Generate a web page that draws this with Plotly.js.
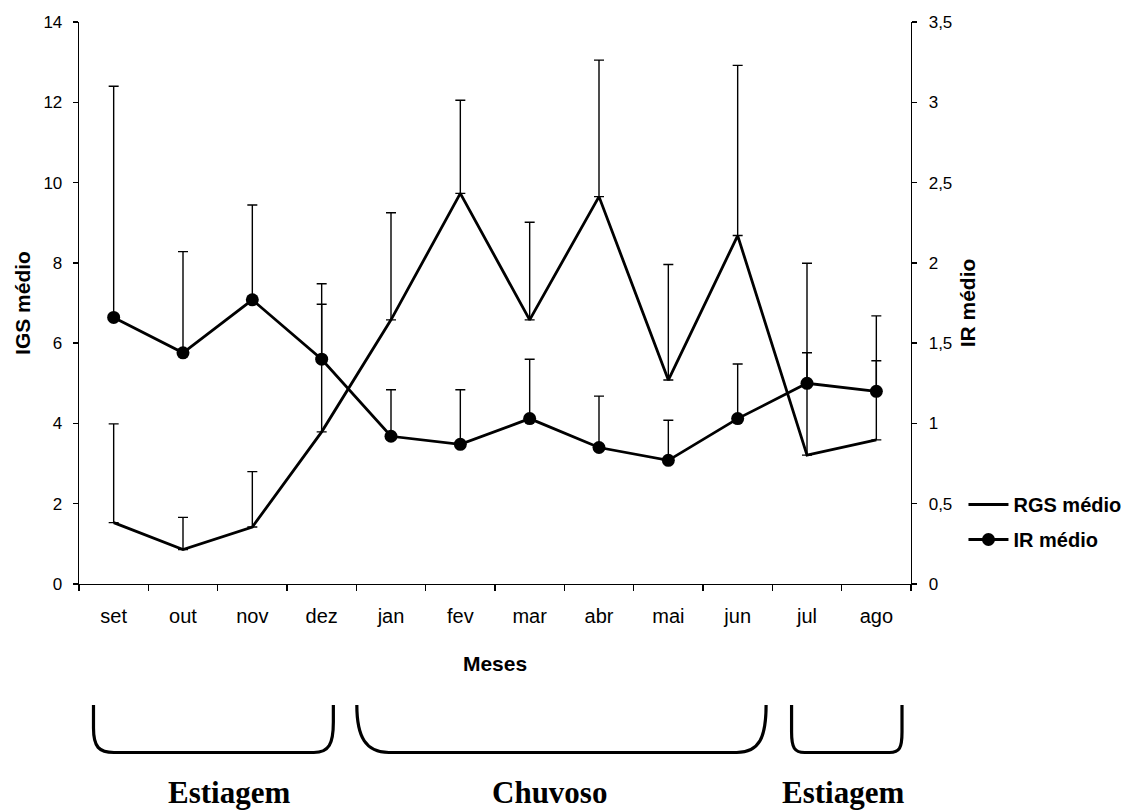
<!DOCTYPE html>
<html>
<head>
<meta charset="utf-8">
<script src="https://cdn.plot.ly/plotly-3.0.1.min.js"></script>
<style>html,body{margin:0;padding:0;background:#fff;}#chart{width:1130px;height:811px;}</style>
</head>
<body>
<div id="chart"></div>
<script>
// ---- data ----
const months = ['set','out','nov','dez','jan','fev','mar','abr','mai','jun','jul','ago'];
const rgsMedio = [1.53,0.86,1.42,3.79,6.58,9.73,6.58,9.65,5.08,8.68,3.21,3.59];
const rgsErrUp = [2.46,0.80,1.38,3.18,2.67,2.32,2.43,3.40,2.88,4.24,4.78,3.09];
const irMedio  = [1.66,1.44,1.77,1.40,0.92,0.87,1.03,0.85,0.77,1.03,1.25,1.20];
const irErrUp  = [1.44,0.63,0.59,0.47,0.29,0.34,0.37,0.32,0.25,0.34,0.19,0.19];
const leftTicks = [0,2,4,6,8,10,12,14];
const rightTicks = [0,0.5,1,1.5,2,2.5,3,3.5];
const seasons = ['Estiagem','Chuvoso','Estiagem'];

// ---- geometry (pixels) ----
const W = 1130, H = 811;
const L = 79, R = 911.5, T = 22, B = 584;
const pw = R - L, ph = B - T;
const fx = x => (x - L) / pw;
const fy = y => (B - y) / ph;
const P = (x, y) => fx(x).toFixed(5) + ',' + fy(y).toFixed(5);

const SANS = 'Liberation Sans, Arial, sans-serif';
const SERIF = 'Liberation Serif, Times New Roman, serif';

const zeros = months.map(() => 0);

const traces = [
  {
    type: 'scatter', mode: 'lines', name: 'RGS médio', legendgroup: 'a',
    x: months, y: rgsMedio, xaxis: 'x', yaxis: 'y',
    line: {color: '#000', width: 2.8},
    error_y: {type: 'data', symmetric: false, array: rgsErrUp, arrayminus: zeros,
              color: '#000', thickness: 1.4, width: 5}
  },
  {
    type: 'scatter', mode: 'lines+markers', name: 'IR médio', legendgroup: 'b',
    x: months, y: irMedio, xaxis: 'x', yaxis: 'y2',
    line: {color: '#000', width: 2.8},
    marker: {color: '#000', size: 13, symbol: 'circle'},
    error_y: {type: 'data', symmetric: false, array: irErrUp, arrayminus: zeros,
              color: '#000', thickness: 1.4, width: 5}
  }
];

const braces = [
  // Estiagem 1
  'M' + P(93.5,705) + 'L' + P(93.5,728) + 'C' + P(93.5,747) + ' ' + P(99,752.5) + ' ' + P(114,752.5) +
  'L' + P(314,752.5) + 'C' + P(329,752.5) + ' ' + P(333.5,744) + ' ' + P(333.5,722) + 'L' + P(333.5,705),
  // Chuvoso
  'M' + P(357,705) + 'C' + P(357,737) + ' ' + P(366,752.5) + ' ' + P(389,752.5) +
  'L' + P(737,752.5) + 'C' + P(760,752.5) + ' ' + P(766.5,737) + ' ' + P(766.5,705),
  // Estiagem 2
  'M' + P(792,705) + 'L' + P(792,732) + 'C' + P(792,748) + ' ' + P(795,752.5) + ' ' + P(805,752.5) +
  'L' + P(890,752.5) + 'C' + P(900,752.5) + ' ' + P(902.5,748) + ' ' + P(902.5,732) + 'L' + P(902.5,705)
];
const shapes = braces.map(p => ({
  type: 'path', xref: 'paper', yref: 'paper', path: p,
  line: {color: '#000', width: 3.2}, layer: 'above'
}));

const seasonX = [229, 550, 843];
const annotations = seasons.map((s, i) => ({
  text: '<b>' + s + '</b>', xref: 'paper', yref: 'paper',
  x: fx(seasonX[i]), y: fy(792), xanchor: 'center', yanchor: 'middle',
  showarrow: false, font: {family: SERIF, size: 31, color: '#000'}
}));

const axisCommon = {
  showgrid: false, zeroline: false, showline: true, linecolor: '#000', linewidth: 1.3,
  tickcolor: '#000', tickwidth: 1.3, fixedrange: true
};

const layout = {
  width: W, height: H,
  margin: {l: L, r: W - R, t: T, b: H - B, pad: 0, autoexpand: false},
  paper_bgcolor: '#fff', plot_bgcolor: '#fff',
  separators: ',.',
  font: {family: SANS, color: '#000', size: 17},
  showlegend: true,
  legend: {
    x: fx(964), y: fy(485), xanchor: 'left', yanchor: 'top',
    bgcolor: 'rgba(0,0,0,0)', borderwidth: 0,
    font: {family: SANS, size: 20, color: '#000', weight: 'bold'},
    traceorder: 'grouped', tracegroupgap: 6, itemwidth: 40
  },
  xaxis: Object.assign({}, axisCommon, {
    type: 'category', tickson: 'boundaries', ticks: 'outside', ticklen: 6,
    tickfont: {family: SANS, size: 20, color: '#000'},
    ticklabelstandoff: 14,
    title: {text: '<b>Meses</b>', font: {family: SANS, size: 21, color: '#000'}, standoff: 30},
    range: [-0.5, 11.5]
  }),
  xaxis2: Object.assign({}, axisCommon, {
    overlaying: 'x', anchor: 'y', side: 'bottom', type: 'linear',
    range: [-0.5, 11.5], tickmode: 'array', tickvals: months.map((_, i) => i - 0.5).concat([11.5]),
    ticks: 'inside', ticklen: 7, showticklabels: false
  }),
  yaxis: Object.assign({}, axisCommon, {
    range: [0, 14], tickmode: 'array', tickvals: leftTicks, ticks: 'outside', ticklen: 5,
    tickfont: {family: SANS, size: 17, color: '#000'}, ticklabelstandoff: 7,
    title: {text: '<b>IGS médio</b>', font: {family: SANS, size: 21, color: '#000'}, standoff: 7}
  }),
  yaxis2: Object.assign({}, axisCommon, {
    overlaying: 'y', side: 'right', anchor: 'x',
    range: [0, 3.5], tickmode: 'array', tickvals: rightTicks, ticks: 'outside', ticklen: 5,
    tickfont: {family: SANS, size: 17, color: '#000'}, ticklabelstandoff: 8,
    title: {text: '<b>IR médio</b>', font: {family: SANS, size: 21, color: '#000'}, standoff: 9}
  }),
  yaxis3: Object.assign({}, axisCommon, {
    overlaying: 'y', side: 'left', anchor: 'x', range: [0, 14], tickmode: 'array', tickvals: leftTicks,
    ticks: 'inside', ticklen: 5, showticklabels: false
  }),
  yaxis4: Object.assign({}, axisCommon, {
    overlaying: 'y', side: 'right', anchor: 'x', range: [0, 3.5], tickmode: 'array', tickvals: rightTicks,
    ticks: 'inside', ticklen: 5, showticklabels: false
  }),
  shapes: shapes,
  annotations: annotations
};

Plotly.newPlot('chart', traces, layout, {displayModeBar: false, staticPlot: true});
</script>
</body>
</html>
